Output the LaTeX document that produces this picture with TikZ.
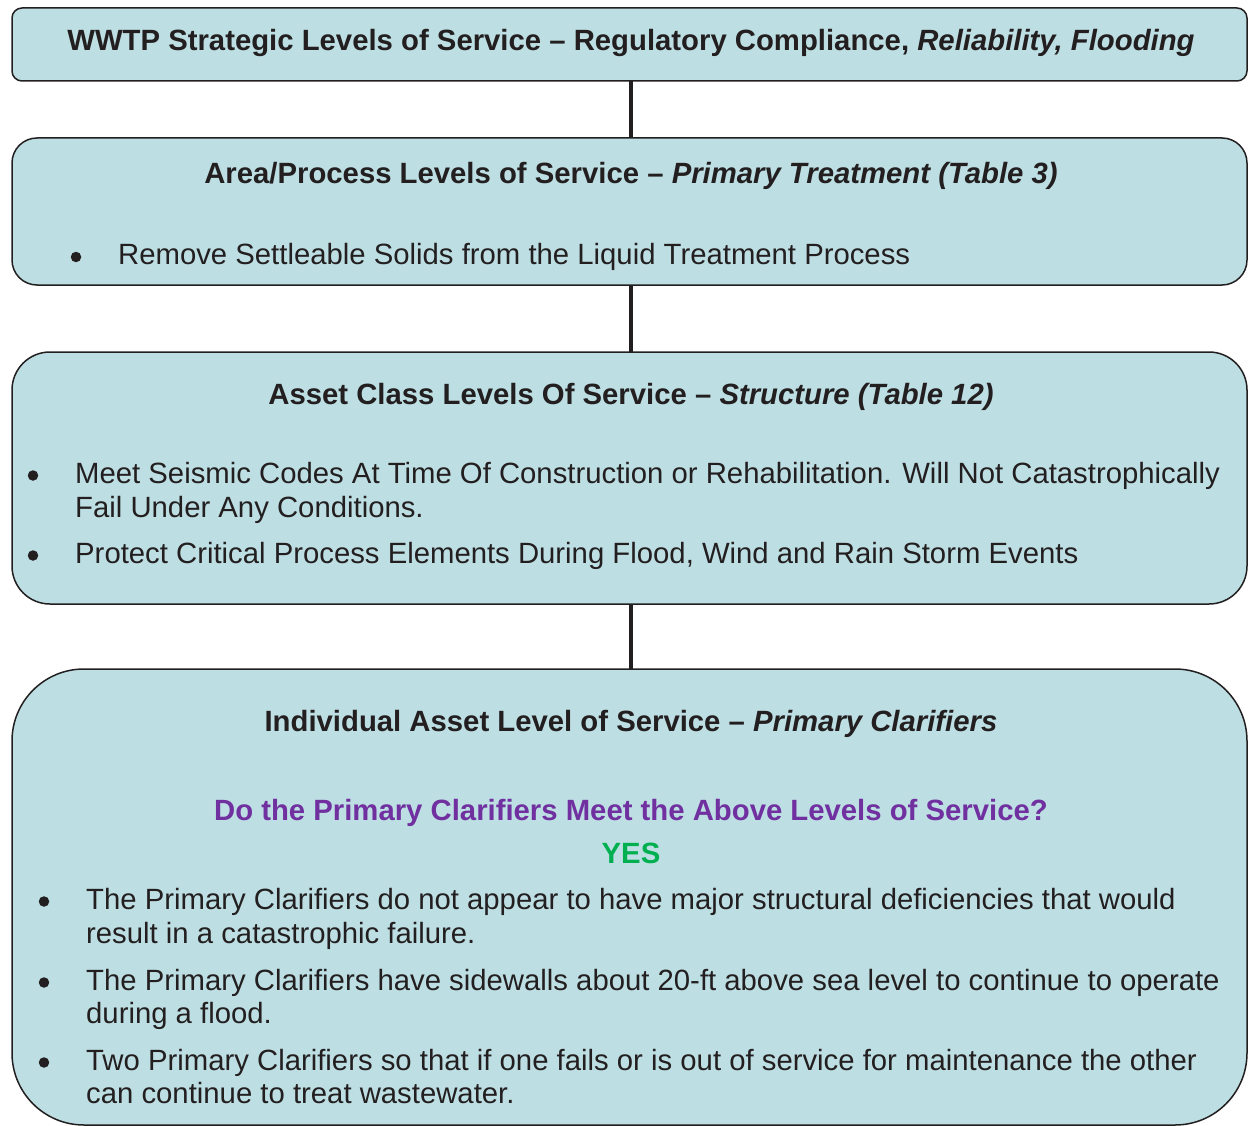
\documentclass[tikz,border=0pt]{standalone}
\usepackage{fontspec}
\setmainfont{Liberation Sans}
\definecolor{boxfill}{HTML}{BDDFE3}
\definecolor{ink}{HTML}{231F20}
\definecolor{askpurple}{HTML}{7030A0}
\definecolor{yesgreen}{HTML}{00B050}
\tikzset{
  lvlbox/.style={draw=ink, line width=1.5pt, fill=boxfill, rectangle, inner sep=0pt, outer sep=0pt, minimum width=1235pt},
  link/.style={draw=ink, line width=4.5pt},
  txt/.style={text=ink, inner sep=0pt, font=\fontsize{29.3}{35}\selectfont},
  dot/.style={circle, fill=ink, inner sep=0pt, minimum size=10.5pt},
}
\begin{document}
\begin{tikzpicture}[x=1pt, y=-1pt]
\useasboundingbox (0,0) rectangle (1248,1126);
% level boxes
\node[lvlbox, rounded corners=10pt, minimum height=73pt] (strategic) at (629.5,44.5) {};
\node[lvlbox, rounded corners=25pt, minimum height=147pt] (area) at (629.5,211.5) {};
\node[lvlbox, rounded corners=38pt, minimum height=252pt] (assetclass) at (629.5,478) {};
\node[lvlbox, rounded corners=72pt, minimum height=456pt] (individual) at (629.5,897) {};
% connectors
\draw[link] ([xshift=1.5pt]strategic.south) -- ([xshift=1.5pt]area.north);
\draw[link] ([xshift=1.5pt]area.south) -- ([xshift=1.5pt]assetclass.north);
\draw[link] ([xshift=1.5pt]assetclass.south) -- ([xshift=1.5pt]individual.north);
% strategic
\node[txt, anchor=base] (t1) at (631,51) {\textbf{WWTP Strategic Levels of Service – Regulatory Compliance, \textit{Reliability, Flooding}}};
% area / process
\node[txt, anchor=base] (t2) at (631,184) {\textbf{Area/Process Levels of Service – \textit{Primary Treatment (Table 3)}}};
\node[dot] (b2a) at (76,257) {};
\node[txt, anchor=base west] (l2a) at (118,265) {Remove Settleable Solids from the Liquid Treatment Process};
% asset class
\node[txt, anchor=base] (t3) at (631,404) {\textbf{Asset Class Levels Of Service – \textit{Structure (Table 12)}}};
\node[dot] (b3a) at (33,475.5) {};
\node[txt, anchor=base west] (l3a) at (75,483) {Meet Seismic Codes At Time Of Construction or Rehabilitation. Will Not Catastrophically};
\node[txt, anchor=base west] (l3b) at (75,517.5) {Fail Under Any Conditions.};
\node[dot] (b3b) at (33,555.5) {};
\node[txt, anchor=base west] (l3c) at (75,563) {Protect Critical Process Elements During Flood, Wind and Rain Storm Events};
% individual asset
\node[txt, anchor=base] (t4) at (631,731) {\textbf{Individual Asset Level of Service – \textit{Primary Clarifiers}}};
\node[txt, anchor=base, text=askpurple] (ask) at (631,820) {\textbf{Do the Primary Clarifiers Meet the Above Levels of Service?}};
\node[txt, anchor=base, text=yesgreen] (yes) at (631,863) {\textbf{YES}};
\node[dot] (b4a) at (44,901.5) {};
\node[txt, anchor=base west] (l4a) at (86,909) {The Primary Clarifiers do not appear to have major structural deficiencies that would};
\node[txt, anchor=base west] (l4b) at (86,943.5) {result in a catastrophic failure.};
\node[dot] (b4b) at (44,982.5) {};
\node[txt, anchor=base west] (l4c) at (86,990) {The Primary Clarifiers have sidewalls about 20-ft above sea level to continue to operate};
\node[txt, anchor=base west] (l4d) at (86,1023.5) {during a flood.};
\node[dot] (b4c) at (44,1062.5) {};
\node[txt, anchor=base west] (l4e) at (86,1070) {Two Primary Clarifiers so that if one fails or is out of service for maintenance the other};
\node[txt, anchor=base west] (l4f) at (86,1103.5) {can continue to treat wastewater.};
\end{tikzpicture}
\end{document}
